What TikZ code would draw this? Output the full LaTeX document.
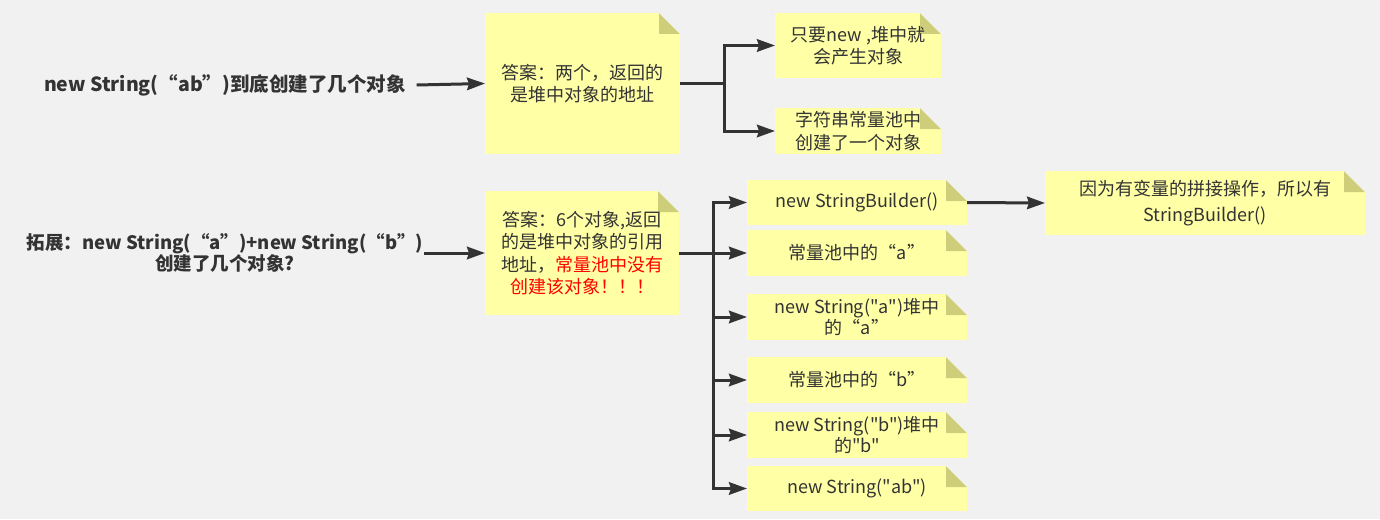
\documentclass[tikz,border=0pt]{standalone}
\usepackage{fontspec}
\newfontfamily\cjk{Noto Sans CJK SC}
\usetikzlibrary{arrows.meta}
\definecolor{bgc}{HTML}{F1F1F1}
\definecolor{notec}{HTML}{FFFFA6}
\definecolor{foldc}{HTML}{CDCD7A}
\definecolor{txt}{HTML}{333333}
\definecolor{myred}{HTML}{FF0000}
\begin{document}
\begin{tikzpicture}[x=1pt,y=-1pt,
  note/.style={rectangle, fill=notec, inner sep=0pt, outer sep=0pt, align=center,
    text=txt, font=\cjk\fontsize{18}{22.5}\selectfont,
    path picture={
      \fill[foldc] ([xshift=-21pt]path picture bounding box.north east)
        -- ([yshift=-21pt]path picture bounding box.north east)
        -- ([xshift=-21pt,yshift=-21pt]path picture bounding box.north east) -- cycle;
      \fill[bgc] ([xshift=-21pt]path picture bounding box.north east)
        -- (path picture bounding box.north east)
        -- ([yshift=-21pt]path picture bounding box.north east) -- cycle;}},
  qtext/.style={inner sep=0pt, outer sep=0pt, align=center, text=txt},
  conn/.style={draw=txt, line width=3pt},
  arr/.style={conn, -{Stealth[length=18pt,width=12.5pt,inset=2pt]}}
]
\fill[bgc] (0,0) rectangle (1380,519);
\useasboundingbox (0,0) rectangle (1380,519);

% top row
\node[qtext, anchor=west, font=\cjk\fontsize{19.5}{22}\selectfont\bfseries] (t1) at (44,85)
  {new String(“ab”)到底创建了几个对象\hspace{11pt}};
\node[note, minimum width=195pt, minimum height=141pt] (n1) at (582.5,83.5)
  {答案：两个，返回的\\是堆中对象的地址};
\node[note, minimum width=166pt, minimum height=65pt] (n2) at (858,45.5)
  {只要new ,堆中就\\会产生对象};
\node[note, minimum width=166pt, minimum height=46pt] (n3) at (858,131)
  {字符串常量池中\\创建了一个对象};
\coordinate (j1) at (724,83.5);

% bottom row
\node[qtext, minimum width=398pt, font=\cjk\fontsize{18.5}{21}\selectfont\bfseries] (t2) at (225,253)
  {拓展：new String(“a”)+new String(“b”)\\创建了几个对象?};
\node[note, minimum width=194pt, minimum height=124pt] (n4) at (582,253)
  {答案：6个对象,返回\\的是堆中对象的引用\\地址，\textcolor{myred}{常量池中没有}\\\textcolor{myred}{创建该对象！！！}};
\coordinate (j2) at (713,253);

\node[note, minimum width=220pt, minimum height=45pt] (b1) at (857,202.5) {new StringBuilder()};
\node[note, minimum width=220pt, minimum height=46pt] (b2) at (857,253) {常量池中的“a”};
\node[note, minimum width=220pt, minimum height=46pt, font=\cjk\fontsize{18}{20.5}\selectfont] (b3) at (857,317)
  {new String("a")堆中\\的“a”};
\node[note, minimum width=220pt, minimum height=46pt] (b4) at (857,380) {常量池中的“b”};
\node[note, minimum width=220pt, minimum height=46pt, font=\cjk\fontsize{18}{20.5}\selectfont] (b5) at (857,435)
  {new String("b")堆中\\的"b"};
\node[note, minimum width=220pt, minimum height=45pt] (b6) at (857,488.5) {new String("ab")};
\node[note, minimum width=320pt, minimum height=64pt, font=\cjk\fontsize{18}{26}\selectfont] (n7) at (1205,203)
  {因为有变量的拼接操作，所以有\\StringBuilder()};

% connectors
\draw[arr] (t1.east) -- (n1.west);
\draw[conn] (n1.east) -- (j1);
\draw[arr] (j1) |- (n2.west);
\draw[arr] (j1) |- (n3.west);

\draw[arr] (t2.east) -- (n4.west);
\draw[conn] (n4.east) -- (j2);
\draw[arr] (j2) |- (b1.west);
\draw[arr] (j2) |- (b2.west);
\draw[arr] (j2) |- (b3.west);
\draw[arr] (j2) |- (b4.west);
\draw[arr] (j2) |- (b5.west);
\draw[arr] (j2) |- (b6.west);
\draw[arr] (b1.east) -- (n7.west);
\end{tikzpicture}
\end{document}
